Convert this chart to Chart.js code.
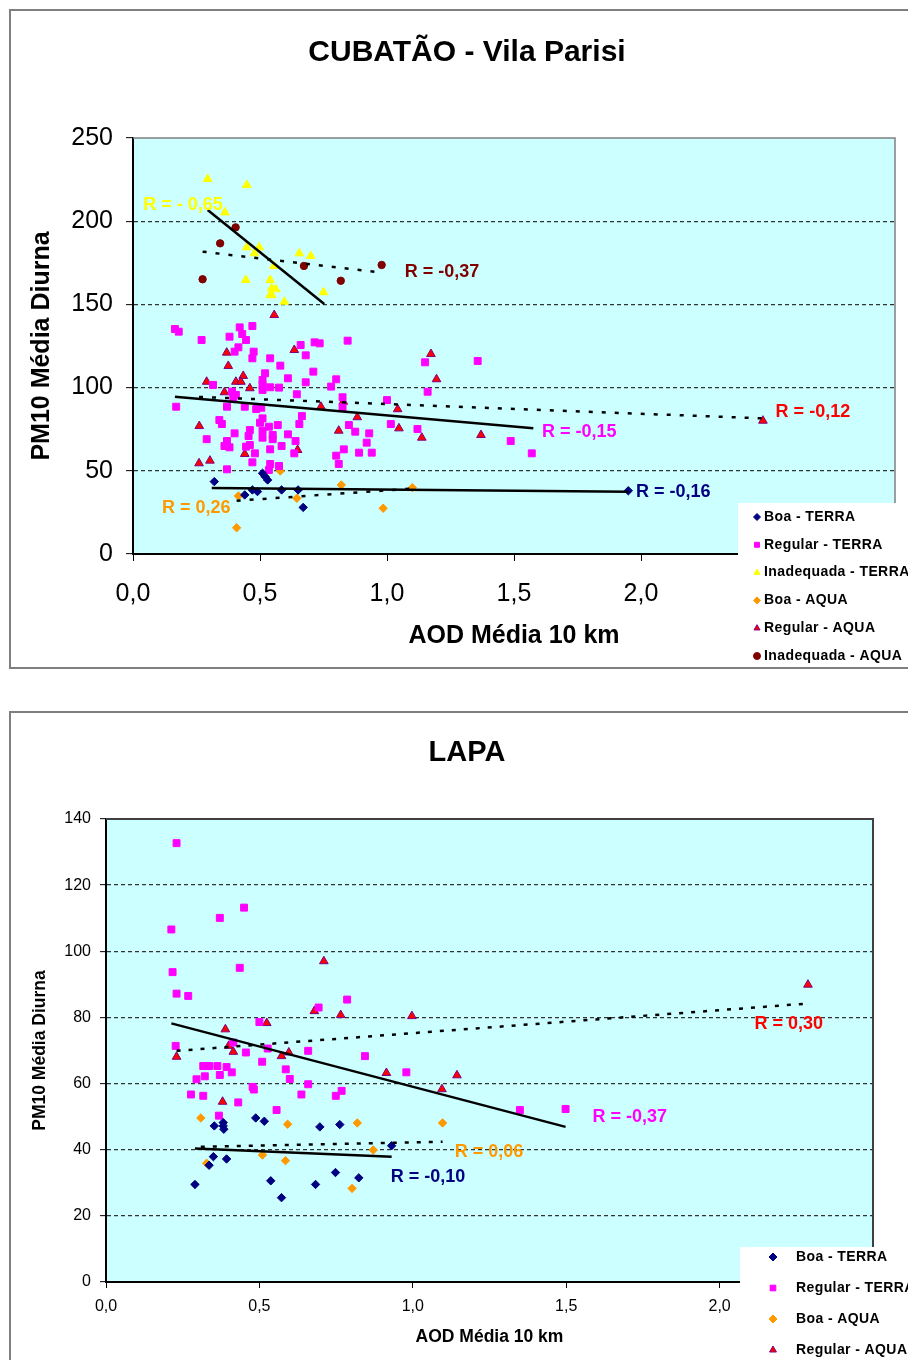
<!DOCTYPE html>
<html><head><meta charset="utf-8">
<script src="https://cdn.jsdelivr.net/npm/chart.js@4.4.1/dist/chart.umd.min.js"></script>
<style>
html,body{margin:0;padding:0;background:#fff;overflow:hidden;width:908px;height:1360px;}
#wrap{position:relative;width:908px;height:1360px;overflow:hidden;}
canvas{position:absolute;left:0;}
#c1{top:0}
#c2{top:690px}
</style></head><body>
<div id="wrap"><canvas id="c1" width="940" height="690"></canvas><canvas id="c2" width="940" height="670"></canvas></div>
<script>
// ===================== DATA: CUBATÃO - Vila Parisi =====================
const cubTitle = 'CUBATÃO - Vila Parisi';
const cubXTickValues = [0, 0.5, 1, 1.5, 2, 2.5, 3];
const cubXTickLabels = ['0,0', '0,5', '1,0', '1,5', '2,0', '2,5', '3,0'];
const cubYTickValues = [0, 50, 100, 150, 200, 250];
const cubYTickLabels = ['0', '50', '100', '150', '200', '250'];

const cubBoaTerra = [[0.32,43.5],[0.44,35.5],[0.47,38.5],[0.49,37.5],[0.51,48.5],[0.52,46.5],[0.53,44.5],[0.585,38.5],[0.65,38.5],[0.67,28],[1.95,38]];
const cubRegTerra = [[0.165,135.2],[0.18,133.6],[0.27,128.6],[0.38,130.6],[0.42,136.2],[0.47,137],[0.43,132.2],[0.445,128.6],[0.415,124.2],[0.40,121.6],[0.475,121.6],[0.47,117.6],[0.54,117.6],[0.66,125.6],[0.715,127.2],[0.735,126.6],[0.845,128.2],[0.68,119.4],[0.58,113.2],[0.71,109.6],[0.52,108.6],[0.61,105.6],[0.51,104.6],[0.51,101.6],[0.51,98.6],[0.54,100.2],[0.575,100],[0.80,105],[0.78,100.6],[0.68,103.2],[0.315,101.6],[0.39,97.6],[0.405,95.6],[0.395,93.6],[0.645,96],[0.17,88.5],[0.37,88.5],[0.44,88.5],[0.485,87.1],[0.505,87.9],[0.825,94.2],[0.825,88.2],[1.0,92.5],[1.16,97.5],[1.15,115.2],[1.357,116],[0.665,82.9],[0.51,81.5],[0.50,78.9],[0.34,80.5],[0.35,78.1],[0.655,78.1],[0.85,77.5],[0.57,77.5],[0.535,76.5],[0.46,74.5],[0.455,70.9],[0.51,74.1],[0.51,69.9],[0.55,71.5],[0.55,69],[0.61,71.9],[0.875,73.5],[0.93,72.5],[1.015,78.1],[1.12,75.1],[0.40,72.5],[0.29,69],[0.37,67.9],[0.36,64.9],[0.38,64.1],[0.46,65.5],[0.445,64.5],[0.54,62.9],[0.585,64.9],[0.64,67.9],[0.635,60.5],[0.48,60.5],[0.47,55.1],[0.54,54.1],[0.575,52.9],[0.37,50.9],[0.535,50.5],[0.83,62.9],[0.80,59.1],[0.81,54.1],[0.89,60.9],[0.92,66.9],[0.94,60.9],[1.487,67.9],[1.57,60.5]];
const cubInadTerra = [[0.294,225.4],[0.448,221.8],[0.362,205.3],[0.448,184.3],[0.497,184.3],[0.478,180.7],[0.655,180.7],[0.70,179.1],[0.555,173.1],[0.444,164.7],[0.54,164.7],[0.546,159.7],[0.562,159.1],[0.54,155.6],[0.546,155.6],[0.75,157.3],[0.596,151.6]];
const cubBoaAqua = [[0.58,49.9],[0.82,41.5],[1.10,39.9],[0.415,34.9],[0.645,33.5],[0.985,27.5],[0.408,15.8]];
const cubRegAqua = [[0.556,143.6],[0.369,121],[0.635,122.6],[0.375,113],[0.29,103.5],[0.434,107],[0.405,103.5],[0.425,103.5],[0.46,99.6],[0.36,97.2],[0.74,88.5],[0.828,91.5],[0.883,82.2],[1.042,87],[1.047,75.5],[1.137,69.9],[0.81,74.1],[0.261,76.9],[0.44,60.1],[0.648,62.5],[0.26,54.5],[0.303,56.1],[1.173,120.2],[1.195,105],[1.37,71.5],[2.48,80.1]];
const cubInadAqua = [[0.404,196.3],[0.343,186.7],[0.274,165.1],[0.673,173.1],[0.818,164.2],[0.979,173.7]];

const cubTrendInadTerra = [[0.294,206.7],[0.753,150.2]];
const cubTrendInadAqua = [[0.274,181.7],[0.979,169.1]];
const cubTrendRegTerra = [[0.165,94.5],[1.576,75.5]];
const cubTrendRegAqua = [[0.26,94.4],[2.48,81.5]];
const cubTrendBoaTerra = [[0.31,39.7],[1.95,37.4]];
const cubTrendBoaAqua = [[0.408,32],[1.10,39.3]];

const cubRTexts = ['R = - 0,65', 'R = -0,37', 'R = -0,12', 'R = -0,15', 'R = -0,16', 'R = 0,26'];
const cubRAnchors = [[0.04,209.7],[1.07,169.5],[2.53,85.3],[1.61,73.3],[1.98,37.3],[0.114,27.6]];

// ===================== DATA: LAPA =====================
const lapTitle = 'LAPA';
const lapXTickValues = [0, 0.5, 1, 1.5, 2, 2.5];
const lapXTickLabels = ['0,0', '0,5', '1,0', '1,5', '2,0', '2,5'];
const lapYTickValues = [0, 20, 40, 60, 80, 100, 120, 140];
const lapYTickLabels = ['0', '20', '40', '60', '80', '100', '120', '140'];

const lapBoaTerra = [[0.353,47.2],[0.382,48.2],[0.382,47.2],[0.384,46.2],[0.488,49.6],[0.516,48.6],[0.697,46.9],[0.762,47.6],[0.931,41.2],[0.35,37.9],[0.393,37.2],[0.336,35.3],[0.29,29.5],[0.537,30.6],[0.572,25.5],[0.683,29.5],[0.748,33.1],[0.824,31.5]];
const lapRegTerra = [[0.23,132.7],[0.45,113.2],[0.371,110.1],[0.213,106.6],[0.436,95],[0.217,93.7],[0.23,87.2],[0.268,86.5],[0.786,85.4],[0.693,83],[0.50,78.6],[0.227,71.4],[0.456,69.4],[0.659,69.9],[0.415,72.4],[0.509,66.6],[0.527,70.6],[0.844,68.3],[0.317,65.3],[0.336,65.3],[0.363,65.3],[0.393,65],[0.295,61.3],[0.322,62.2],[0.371,62.6],[0.41,63.4],[0.586,64.3],[0.599,61.4],[0.979,63.4],[0.478,59],[0.482,58.2],[0.659,59.8],[0.637,56.7],[0.768,57.8],[0.749,56.3],[0.277,56.7],[0.317,56.3],[0.431,54.3],[0.556,52],[0.368,50.3],[1.349,52],[1.498,52.3]];
const lapBoaAqua = [[0.309,49.6],[0.592,47.7],[0.819,48.1],[1.097,48.1],[0.871,39.9],[0.51,38.4],[0.585,36.7],[0.328,35.9],[0.802,28.3]];
const lapRegAqua = [[0.71,97],[0.679,81.9],[0.765,80.7],[0.524,78.3],[0.389,76.4],[0.40,71.4],[0.415,69.6],[0.23,68.1],[0.572,68.3],[0.596,69.4],[0.914,63.2],[1.144,62.5],[1.095,58.3],[0.38,54.5],[2.288,89.9],[0.997,80.4]];

const lapTrendRegTerra = [[0.213,78.2],[1.498,46.9]];
const lapTrendRegAqua = [[0.23,69.9],[2.288,84.2]];
const lapTrendBoaTerra = [[0.29,40.4],[0.931,37.9]];
const lapTrendBoaAqua = [[0.309,40.9],[1.097,42.4]];

const lapRTexts = ['R = -0,37', 'R = 0,30', 'R = -0,10', 'R = 0,06'];
const lapRAnchors = [[1.586,49.8],[2.114,77.9],[0.928,31.7],[1.137,39.3]];

const axisYTitle = 'PM10 Média Diurna';
const axisXTitle = 'AOD Média 10 km';

// ===================== RENDERING =====================
const FONT = "'Liberation Sans', Arial, Helvetica, sans-serif";
const C_NAVY = '#000080', C_MAG = '#FF00FF', C_YEL = '#FFFF00', C_ORA = '#FF9900', C_RED = '#FF0000', C_DRED = '#800000';

function pts(a) { return a.map(p => ({x: p[0], y: p[1]})); }

function drawMarker(ctx, style, x, y, r, fill, stroke) {
  ctx.save();
  ctx.fillStyle = fill; ctx.strokeStyle = stroke; ctx.lineWidth = 1;
  ctx.beginPath();
  if (style === 'rectRot') {
    ctx.moveTo(x, y - r); ctx.lineTo(x + r, y); ctx.lineTo(x, y + r); ctx.lineTo(x - r, y); ctx.closePath();
  } else if (style === 'rect') {
    const s = r * Math.SQRT1_2; ctx.rect(x - s, y - s, 2 * s, 2 * s);
  } else if (style === 'triangle') {
    for (let k = 0; k < 3; k++) {
      const a = k * 2 * Math.PI / 3;
      const px = x + Math.sin(a) * r, py = y - Math.cos(a) * r;
      if (k === 0) ctx.moveTo(px, py); else ctx.lineTo(px, py);
    }
    ctx.closePath();
  } else {
    ctx.arc(x, y, r, 0, Math.PI * 2);
  }
  ctx.fill(); ctx.stroke();
  ctx.restore();
}

const deco = {
  id: 'deco',
  beforeDraw(chart, args, o) {
    const {ctx, chartArea: a} = chart;
    ctx.save();
    ctx.fillStyle = '#CCFFFF';
    ctx.fillRect(a.left, a.top, a.right - a.left, a.bottom - a.top);
    ctx.restore();
  },
  afterDatasetsDraw(chart, args, o) {
    const {ctx} = chart;
    const xs = chart.scales.x, ys = chart.scales.y;
    ctx.save();
    ctx.font = 'bold ' + o.rSize + 'px ' + FONT;
    ctx.textAlign = 'left'; ctx.textBaseline = 'middle';
    o.rTexts.forEach((t, i) => {
      ctx.fillStyle = o.rColors[i];
      ctx.fillText(t, xs.getPixelForValue(o.rAnchors[i][0]), ys.getPixelForValue(o.rAnchors[i][1]));
    });
    ctx.restore();
  },
  afterDraw(chart, args, o) {
    const {ctx, chartArea: a} = chart;
    ctx.save();
    ctx.strokeStyle = o.frameColor; ctx.lineWidth = o.frameWidth;
    ctx.beginPath(); ctx.moveTo(a.left, a.top); ctx.lineTo(a.right, a.top); ctx.lineTo(a.right, a.bottom); ctx.stroke();
    ctx.fillStyle = '#000';
    ctx.font = 'bold ' + o.titleSize + 'px ' + FONT;
    ctx.textAlign = 'center'; ctx.textBaseline = 'middle';
    ctx.fillText(o.title, o.titleX, o.titleY);
    const L = o.legend;
    ctx.fillStyle = '#FFFFFF';
    ctx.fillRect(L.x, L.y, L.w, L.h);
    ctx.font = 'bold ' + L.size + 'px ' + FONT;
    ctx.textAlign = 'left'; ctx.textBaseline = 'middle';
    try { ctx.letterSpacing = '0.4px'; } catch (e) {}
    const items = chart.data.datasets.filter(d => !d.isTrend);
    items.forEach((d, i) => {
      const yy = L.y0 + i * L.step;
      drawMarker(ctx, d.pointStyle, L.mx, yy, L.mr, d.backgroundColor, d.borderColor);
      ctx.fillStyle = '#000';
      ctx.fillText(d.label, L.tx, yy);
    });
    try { ctx.letterSpacing = '0px'; } catch (e) {}
    ctx.strokeStyle = '#7F7F7F'; ctx.lineWidth = 2;
    ctx.strokeRect(o.outer[0], o.outer[1], o.outer[2], o.outer[3]);
    ctx.restore();
  }
};

function buildChart(id, o) {
  const datasets = [];
  o.trends.forEach(t => datasets.push({
    label: '', data: pts(t.data), showLine: true, borderColor: '#000', borderWidth: o.trendWidth,
    borderDash: t.dotted ? o.dotDash : [], pointRadius: 0, pointHoverRadius: 0, order: -1, isTrend: true, fill: false
  }));
  o.series.forEach(s => datasets.push({
    label: s.label, data: pts(s.data), pointStyle: s.style, pointRadius: s.r, pointHoverRadius: s.r,
    backgroundColor: s.fill, borderColor: s.stroke, borderWidth: 1, showLine: false
  }));
  return new Chart(document.getElementById(id), {
    type: 'scatter',
    data: {datasets},
    options: {
      responsive: false, animation: false, devicePixelRatio: 1, events: [],
      layout: {padding: o.pad},
      plugins: {
        legend: {display: false}, tooltip: {enabled: false}, title: {display: false},
        deco: o.deco
      },
      scales: {
        x: {
          type: 'linear', min: o.xTickValues[0], max: o.xTickValues[o.xTickValues.length - 1],
          afterBuildTicks: s => { s.ticks = o.xTickValues.map(v => ({value: v})); },
          afterFit: s => { s.height = o.xHeight; },
          ticks: {callback: (v, i) => o.xTickLabels[i], font: {family: FONT, size: o.tickSize}, color: '#000', padding: o.xTickPad, maxRotation: 0, autoSkip: false},
          grid: {display: true, drawOnChartArea: false, drawTicks: true, tickLength: o.tickLen, tickColor: '#000', tickWidth: 1, color: '#000'},
          border: {display: true, color: '#000', width: 2},
          title: {display: true, text: axisXTitle, font: {family: FONT, size: o.axisTitleSize, weight: 'bold'}, color: '#000', padding: {top: 0, bottom: o.xTitlePadB}}
        },
        y: {
          type: 'linear', min: o.yTickValues[0], max: o.yTickValues[o.yTickValues.length - 1],
          afterBuildTicks: s => { s.ticks = o.yTickValues.map(v => ({value: v})); },
          afterFit: s => { s.width = o.yWidth; },
          ticks: {callback: (v, i) => o.yTickLabels[i], font: {family: FONT, size: o.tickSize}, color: '#000', padding: o.yTickPad, autoSkip: false},
          grid: {
            display: true, drawOnChartArea: true, drawTicks: true, tickLength: o.tickLen, tickColor: '#000', tickWidth: 1, lineWidth: 1.3,
            color: c => (c.tick && (c.tick.value === o.yTickValues[0] || c.tick.value === o.yTickValues[o.yTickValues.length - 1])) ? 'rgba(0,0,0,0)' : '#333'
          },
          border: {display: true, color: '#000', width: 2, dash: [4, 3]},
          title: {display: true, text: axisYTitle, font: {family: FONT, size: o.axisTitleSize, weight: 'bold'}, color: '#000', padding: {top: o.yTitlePadT, bottom: 0}}
        }
      }
    },
    plugins: [deco]
  });
}

// ---- Chart 1 ----
buildChart('c1', {
  xTickValues: cubXTickValues, xTickLabels: cubXTickLabels, yTickValues: cubYTickValues, yTickLabels: cubYTickLabels,
  pad: {top: 138, left: 10, right: 45, bottom: 10},
  xHeight: 126, yWidth: 123, tickSize: 25, tickLen: 7, xTickPad: 18, yTickPad: 13,
  axisTitleSize: 25, xTitlePadB: 29, yTitlePadT: 17,
  trendWidth: 2.5, dotDash: [4, 9],
  trends: [
    {data: cubTrendInadTerra, dotted: false}, {data: cubTrendInadAqua, dotted: true},
    {data: cubTrendRegTerra, dotted: false}, {data: cubTrendRegAqua, dotted: true},
    {data: cubTrendBoaTerra, dotted: false}, {data: cubTrendBoaAqua, dotted: true}
  ],
  series: [
    {label: 'Boa - TERRA', data: cubBoaTerra, style: 'rectRot', r: 4.2, fill: C_NAVY, stroke: C_NAVY},
    {label: 'Regular - TERRA', data: cubRegTerra, style: 'rect', r: 4.9, fill: C_MAG, stroke: C_MAG},
    {label: 'Inadequada - TERRA', data: cubInadTerra, style: 'triangle', r: 5, fill: C_YEL, stroke: C_YEL},
    {label: 'Boa - AQUA', data: cubBoaAqua, style: 'rectRot', r: 4.2, fill: C_ORA, stroke: C_ORA},
    {label: 'Regular - AQUA', data: cubRegAqua, style: 'triangle', r: 5, fill: C_RED, stroke: '#800080'},
    {label: 'Inadequada - AQUA', data: cubInadAqua, style: 'circle', r: 3.7, fill: C_DRED, stroke: C_DRED}
  ],
  deco: {
    title: cubTitle, titleSize: 30, titleX: 467, titleY: 53,
    rTexts: cubRTexts, rAnchors: cubRAnchors, rSize: 18,
    rColors: [C_YEL, C_DRED, C_RED, C_MAG, C_NAVY, C_ORA],
    frameColor: '#808080', frameWidth: 1.5,
    legend: {x: 738, y: 503, w: 220, h: 164, size: 14, mx: 757, mr: 3.5, tx: 764, y0: 517, step: 27.8},
    outer: [10, 10, 960, 658]
  }
});

// ---- Chart 2 ----
buildChart('c2', {
  xTickValues: lapXTickValues, xTickLabels: lapXTickLabels, yTickValues: lapYTickValues, yTickLabels: lapYTickLabels,
  pad: {top: 129, left: 10, right: 67, bottom: 0},
  xHeight: 78, yWidth: 96, tickSize: 16, tickLen: 6, xTickPad: 9, yTickPad: 9,
  axisTitleSize: 17.5, xTitlePadB: 12.5, yTitlePadT: 19.5,
  trendWidth: 2.5, dotDash: [4, 8],
  trends: [
    {data: lapTrendRegTerra, dotted: false}, {data: lapTrendRegAqua, dotted: true},
    {data: lapTrendBoaTerra, dotted: false}, {data: lapTrendBoaAqua, dotted: true}
  ],
  series: [
    {label: 'Boa - TERRA', data: lapBoaTerra, style: 'rectRot', r: 4.2, fill: C_NAVY, stroke: C_NAVY},
    {label: 'Regular - TERRA', data: lapRegTerra, style: 'rect', r: 4.9, fill: C_MAG, stroke: C_MAG},
    {label: 'Boa - AQUA', data: lapBoaAqua, style: 'rectRot', r: 4.2, fill: C_ORA, stroke: C_ORA},
    {label: 'Regular - AQUA', data: lapRegAqua, style: 'triangle', r: 5, fill: C_RED, stroke: '#800080'}
  ],
  deco: {
    title: lapTitle, titleSize: 29, titleX: 467, titleY: 63,
    rTexts: lapRTexts, rAnchors: lapRAnchors, rSize: 18,
    rColors: [C_MAG, C_RED, C_NAVY, C_ORA],
    frameColor: '#404040', frameWidth: 2,
    legend: {x: 740, y: 557, w: 220, h: 120, size: 14, mx: 773, mr: 4, tx: 796, y0: 567, step: 31},
    outer: [10, 22, 960, 700]
  }
});
</script>
</body></html>
